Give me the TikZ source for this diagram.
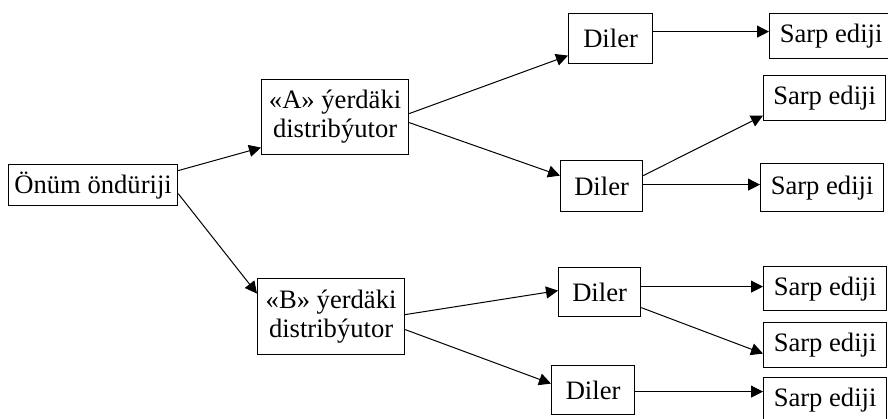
\documentclass[tikz,border=0pt]{standalone}
\usepackage{fontspec}
\setmainfont{Liberation Serif}
\usetikzlibrary{arrows.meta}

\tikzset{
  box/.style={draw, line width=0.6pt, anchor=north west, inner sep=0pt, align=center,
    font=\fontsize{13.3}{14.5}\selectfont},
  arr/.style={line width=0.5pt, -{Triangle[length=6pt, width=6pt]}}
}

\begin{document}
\begin{tikzpicture}[x=0.5pt, y=-0.5pt]

\useasboundingbox (0, 0) rectangle (888, 418);

\node[box, minimum width=84.5pt, minimum height=20.5pt] (prod) at (8, 164) {Önüm öndüriji};

\node[box, minimum width=73.5pt, minimum height=37.5pt] (distA) at (261, 79) {«A» ýerdäki\\distribýutor};
\node[box, minimum width=73.5pt, minimum height=38pt] (distB) at (257, 278) {«B» ýerdäki\\distribýutor};

\node[box, minimum width=42pt, minimum height=25pt] (dil1) at (568, 13) {Diler};
\node[box, minimum width=41pt, minimum height=25.5pt] (dil2) at (560, 160) {Diler};
\node[box, minimum width=41pt, minimum height=24.5pt] (dil3) at (558, 267) {Diler};
\node[box, minimum width=41.5pt, minimum height=24.5pt] (dil4) at (551, 365) {Diler};

\node[box, minimum width=61.5pt, minimum height=22.5pt] (sarp1) at (769, 13) {Sarp ediji};
\node[box, minimum width=61pt, minimum height=22.5pt] (sarp2) at (763, 75) {Sarp ediji};
\node[box, minimum width=61.5pt, minimum height=24pt] (sarp3) at (760, 163) {Sarp ediji};
\node[box, minimum width=61.5pt, minimum height=22pt] (sarp4) at (763, 266) {Sarp ediji};
\node[box, minimum width=61.5pt, minimum height=22.5pt] (sarp5) at (763, 322) {Sarp ediji};
\node[box, minimum width=61.5pt, minimum height=22.5pt] (sarp6) at (763, 377) {Sarp ediji};

% producer to distributors
\draw[arr] ([yshift=7.25pt]prod.east) -- ([yshift=-15.25pt]distA.west);
\draw[arr] ([yshift=-4.25pt]prod.east) -- ([yshift=11.5pt]distB.west);

% distributors to dealers
\draw[arr] ([yshift=1.75pt]distA.east) -- ([yshift=-8.5pt]dil1.west);
\draw[arr] ([yshift=-2.75pt]distA.east) -- ([yshift=5.25pt]dil2.west);
\draw[arr] ([yshift=1pt]distB.east) -- ([yshift=0.75pt]dil3.west);
\draw[arr] ([yshift=-6.5pt]distB.east) -- ([yshift=3.25pt]dil4.west);

% dealers to buyers
\draw[arr] ([yshift=3.5pt]dil1.east) -- ([yshift=2.25pt]sarp1.west);
\draw[arr] ([yshift=5.25pt]dil2.east) -- ([yshift=-8.75pt]sarp2.west);
\draw[arr] ([yshift=0.75pt]dil2.east) -- ([yshift=1.5pt]sarp3.west);
\draw[arr] ([yshift=2.75pt]dil3.east) -- ([yshift=1pt]sarp4.west);
\draw[arr] ([yshift=-7.75pt]dil3.east) -- ([yshift=-4.25pt]sarp5.west);
\draw[arr] ([yshift=-0.75pt]dil4.east) -- ([yshift=4.25pt]sarp6.west);

\end{tikzpicture}
\end{document}
